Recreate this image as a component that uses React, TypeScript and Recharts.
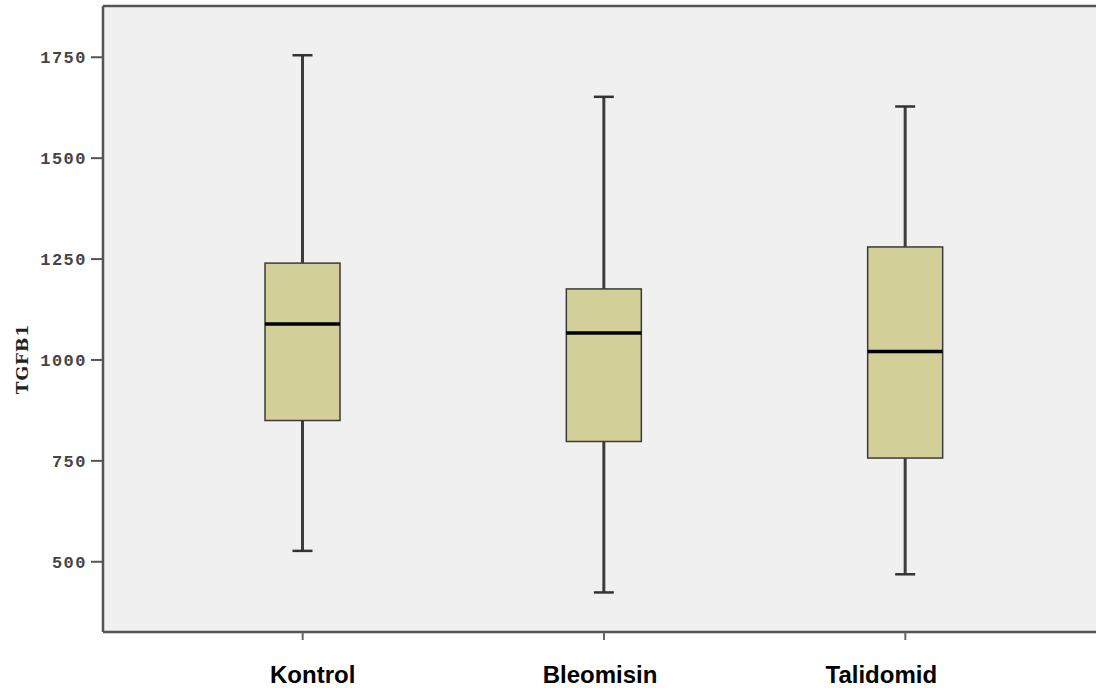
import { ComposedChart, Bar, XAxis, YAxis, CartesianGrid, ReferenceLine } from 'recharts';

// TGFB1 levels per group: five-number summary for each box
const GROUPS = ['Kontrol', 'Bleomisin', 'Talidomid'];
const MINS = [527, 424, 469];
const Q1S = [850, 798, 757];
const MEDIANS = [1089, 1067, 1021];
const Q3S = [1240, 1176, 1280];
const MAXS = [1755, 1652, 1628];

const Y_TICKS = [500, 750, 1000, 1250, 1500, 1750];
const Y_MIN = 326;
const Y_MAX = 1877;

// horizontal nudge of each category label relative to its tick
const LABEL_NUDGE = [10, -4, -24];

const data = GROUPS.map((name, i) => ({
    name,
    min: MINS[i],
    q1: Q1S[i],
    median: MEDIANS[i],
    q3: Q3S[i],
    max: MAXS[i],
}));

const FRAME = '#555555';

// The bar spans min..max; box, median and caps are placed inside that span.
function BoxShape(props: any) {
    const { x, y, width, height, payload } = props;
    const { min, q1, median, q3, max } = payload;
    const toPx = (v: number) => y + (height * (max - v)) / (max - min);
    const cx = x + width / 2;
    const capHalf = 10;
    return (
        <g>
            <line x1={cx} x2={cx} y1={toPx(max)} y2={toPx(q3)} stroke="#3c3c3c" strokeWidth={3} />
            <line x1={cx} x2={cx} y1={toPx(q1)} y2={toPx(min)} stroke="#3c3c3c" strokeWidth={3} />
            <line x1={cx - capHalf} x2={cx + capHalf} y1={toPx(max)} y2={toPx(max)} stroke="#333" strokeWidth={2.5} />
            <line x1={cx - capHalf} x2={cx + capHalf} y1={toPx(min)} y2={toPx(min)} stroke="#333" strokeWidth={2.5} />
            <rect
                x={x}
                y={toPx(q3)}
                width={width}
                height={toPx(q1) - toPx(q3)}
                fill="#d3cf98"
                stroke="#3a3a3a"
                strokeWidth={1.5}
            />
            <line x1={x} x2={x + width} y1={toPx(median)} y2={toPx(median)} stroke="#000" strokeWidth={3.5} />
        </g>
    );
}

function GroupTick(props: any) {
    const { x, y, payload, index } = props;
    return (
        <text
            x={x + (LABEL_NUDGE[index] ?? 0)}
            y={y}
            dy="0.71em"
            textAnchor="middle"
            fill="#000"
            fontFamily="'Liberation Sans', Arial, sans-serif"
            fontWeight="bold"
            fontSize={24}
        >
            {payload.value}
        </text>
    );
}

function YLabel() {
    return (
        <text
            x={22}
            y={359}
            transform="rotate(-90, 22, 359)"
            textAnchor="middle"
            dominantBaseline="central"
            fontFamily="'DejaVu Serif', serif"
            fontWeight="bold"
            fontSize={17}
            letterSpacing={1}
            fill="#222"
        >
            TGFB1
        </text>
    );
}

export default function App() {
    return (
        <div
            style={{
                position: 'absolute',
                left: 0,
                top: 0,
                width: 1096,
                height: 688,
                overflow: 'hidden',
                background: '#fff',
            }}
        >
            <ComposedChart
                width={1106}
                height={688}
                data={data}
                margin={{ top: 6, right: 1, bottom: 0, left: 0 }}
            >
                <CartesianGrid horizontal={false} vertical={false} fill="#f0f0f0" />
                <XAxis
                    dataKey="name"
                    height={56}
                    padding={{ left: 49, right: 49 }}
                    axisLine={{ stroke: FRAME, strokeWidth: 2.5 }}
                    tickLine={{ stroke: '#666', strokeWidth: 2 }}
                    tickSize={8}
                    tickMargin={26}
                    tick={<GroupTick />}
                />
                <YAxis
                    type="number"
                    domain={[Y_MIN, Y_MAX]}
                    ticks={Y_TICKS}
                    allowDataOverflow
                    width={103}
                    axisLine={{ stroke: FRAME, strokeWidth: 2.5 }}
                    tickLine={{ stroke: FRAME, strokeWidth: 2 }}
                    tickSize={12}
                    tickMargin={4}
                    tick={{
                        fill: '#444',
                        fontFamily: "'Liberation Mono', monospace",
                        fontWeight: 'bold',
                        fontSize: 17,
                        letterSpacing: 1.5,
                    }}
                    label={<YLabel />}
                />
                <ReferenceLine y={Y_MAX} stroke={FRAME} strokeWidth={2.5} />
                <Bar
                    dataKey={(d: any) => [d.min, d.max]}
                    barSize={75}
                    shape={<BoxShape />}
                    isAnimationActive={false}
                />
            </ComposedChart>
        </div>
    );
}
